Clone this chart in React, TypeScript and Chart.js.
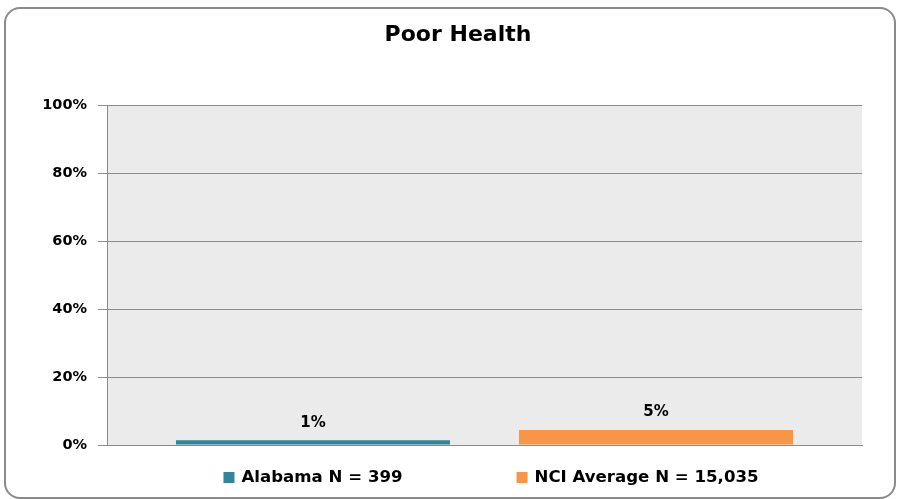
import React, { useEffect, useRef } from "react";
import { Chart, registerables } from "chart.js";

Chart.register(...registerables);

const chartTitle = "Poor Health";
const categories = ["Poor Health"];
const seriesNames = ["Alabama N = 399", "NCI Average N = 15,035"];
const alabamaValues = [1.4];
const nciValues = [4.4];
const valueLabels = [["1%"], ["5%"]];
const seriesColors = ["#31859c", "#f79646"];
const yTicks = [0, 20, 40, 60, 80, 100];

const FONT = "'DejaVu Sans', sans-serif";

export default function App() {
  const ref = useRef<HTMLCanvasElement | null>(null);

  useEffect(() => {
    if (!ref.current) return;

    const plotBg = {
      id: "plotBg",
      beforeDraw(chart: any) {
        const { ctx, chartArea } = chart;
        ctx.save();
        ctx.fillStyle = "#ebebeb";
        ctx.fillRect(chartArea.left, chartArea.top, chartArea.right - chartArea.left, chartArea.bottom - chartArea.top);
        ctx.restore();
      },
    };

    const titleDraw = {
      id: "titleDraw",
      afterDraw(chart: any) {
        const { ctx, chartArea } = chart;
        ctx.save();
        ctx.font = `bold 22px ${FONT}`;
        ctx.fillStyle = "#000";
        ctx.textAlign = "center";
        ctx.textBaseline = "middle";
        ctx.fillText(chartTitle, (chartArea.left + chartArea.right) / 2 - 26.5, 35);
        ctx.restore();
      },
    };

    const dataLabels = {
      id: "dataLabels",
      afterDatasetsDraw(chart: any) {
        const { ctx } = chart;
        ctx.save();
        ctx.font = `bold 15px ${FONT}`;
        ctx.fillStyle = "#000";
        ctx.textAlign = "center";
        ctx.textBaseline = "middle";
        chart.data.datasets.forEach((ds: any, i: number) => {
          const meta = chart.getDatasetMeta(i);
          meta.data.forEach((el: any, j: number) => {
            ctx.fillText(valueLabels[i][j], el.x, el.y - 17.5);
          });
        });
        ctx.restore();
      },
    };

    const customLegend = {
      id: "customLegend",
      afterDraw(chart: any) {
        const { ctx, chartArea } = chart;
        ctx.save();
        ctx.font = `bold 16.6px ${FONT}`;
        ctx.textBaseline = "middle";
        const box = 11;
        const boxGap = 7;
        const itemGap = 114;
        const widths = chart.data.datasets.map((ds: any) => box + boxGap + ctx.measureText(ds.label).width);
        const total = widths.reduce((a: number, b: number) => a + b, 0) + itemGap * (widths.length - 1);
        let x = (chartArea.left + chartArea.right) / 2 + 6.5 - total / 2;
        const y = 477.5;
        chart.data.datasets.forEach((ds: any, i: number) => {
          ctx.fillStyle = ds.backgroundColor;
          ctx.fillRect(x, y - box / 2, box, box);
          ctx.fillStyle = "#000";
          ctx.textAlign = "left";
          ctx.fillText(ds.label, x + box + boxGap, y);
          x += widths[i] + itemGap;
        });
        ctx.restore();
      },
    };

    const chart = new Chart(ref.current, {
      type: "bar",
      data: {
        labels: categories,
        datasets: [
          { label: seriesNames[0], data: alabamaValues, backgroundColor: seriesColors[0] },
          { label: seriesNames[1], data: nciValues, backgroundColor: seriesColors[1] },
        ],
      },
      options: {
        responsive: false,
        animation: false,
        devicePixelRatio: 1,
        categoryPercentage: 0.9086,
        barPercentage: 0.799,
        layout: { padding: { left: 10, right: 38, top: 105, bottom: 54 } },
        plugins: {
          legend: { display: false },
          tooltip: { enabled: false },
          title: { display: false },
        },
        scales: {
          x: {
            ticks: { display: false },
            grid: { display: false },
            border: { display: true, color: "#8c8c8c", width: 1 },
            afterFit(scale: any) {
              scale.height = 0;
            },
          },
          y: {
            min: 0,
            max: 100,
            afterBuildTicks(scale: any) {
              scale.ticks = yTicks.map((v) => ({ value: v }));
            },
            ticks: {
              padding: 11,
              color: "#000",
              font: { family: FONT, size: 14.5, weight: "bold" },
              callback: (v: any) => `${v}%`,
            },
            grid: { color: "#8c8c8c", tickLength: 9, drawTicks: true },
            border: { display: true, color: "#8c8c8c" },
            afterFit(scale: any) {
              scale.width = 97;
            },
          },
        },
      },
      plugins: [plotBg, dataLabels, customLegend, titleDraw],
    } as any);

    return () => chart.destroy();
  }, []);

  return (
    <div style={{ position: "fixed", left: 0, top: 0, width: 900, height: 499, background: "#fff" }}>
      <div
        style={{
          position: "absolute",
          left: 4,
          top: 7,
          width: 892,
          height: 492,
          border: "2px solid #8a8a8a",
          borderRadius: 16,
          boxSizing: "border-box",
        }}
      />
      <canvas ref={ref} width={900} height={499} style={{ position: "absolute", left: 0, top: 0, width: 900, height: 499 }} />
    </div>
  );
}
